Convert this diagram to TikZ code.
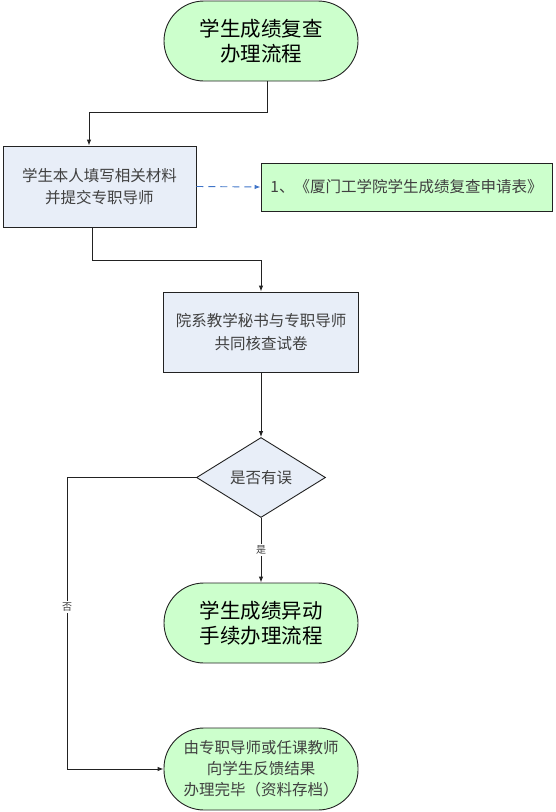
\documentclass[tikz,border=0pt]{standalone}
\usepackage{fontspec}
\newfontfamily\cjk{Noto Sans CJK SC}
\usetikzlibrary{shapes.geometric,arrows.meta}
\definecolor{termgreen}{HTML}{CCFFCC}
\definecolor{boxblue}{HTML}{E8EEF8}
\definecolor{dashblue}{HTML}{3F74C8}
\definecolor{linegray}{HTML}{222222}
\tikzset{
  base/.style={draw=linegray, line width=0.9pt, align=center, inner sep=0pt},
  term/.style={base, fill=termgreen, rounded corners=40pt, minimum width=194pt, minimum height=80pt,
    font=\cjk\fontsize{20.5}{25.5}\selectfont, text=black},
  endterm/.style={base, fill=termgreen, rounded corners=40pt, minimum width=194pt, minimum height=82pt,
    font=\cjk\fontsize{15.5}{21}\selectfont, text=black!75},
  procbox/.style={base, fill=boxblue, font=\cjk\fontsize{15.5}{22.5}\selectfont, text=black!75},
  notebox/.style={base, fill=termgreen, font=\cjk\fontsize{15.5}{20}\selectfont, text=black!75},
  decide/.style={base, diamond, fill=boxblue, minimum width=129pt, minimum height=80pt,
    font=\cjk\fontsize{15.5}{20}\selectfont, text=black!75},
  arr/.style={draw=linegray, line width=0.9pt, -{Latex[length=6pt,width=4.5pt]}},
  dasharr/.style={draw=dashblue, line width=0.9pt, dash pattern=on 7pt off 5pt, -{Latex[length=6pt,width=4.5pt]}},
  lbl/.style={fill=white, inner sep=1.5pt, font=\cjk\fontsize{10}{10}\selectfont, text=black!75},
}
\begin{document}
\begin{tikzpicture}[x=1pt,y=-1pt]
\useasboundingbox (0,0) rectangle (555,812);
\node[term] (t1) at (261,41) {学生成绩复查\\办理流程};
\node[procbox, minimum width=193pt, minimum height=81pt] (b1) at (99.5,186.5) {学生本人填写相关材料\\并提交专职导师};
\node[notebox, minimum width=291pt, minimum height=48pt] (g) at (406.5,187) {1、《厦门工学院学生成绩复查申请表》};
\node[procbox, minimum width=195pt, minimum height=80pt] (b2) at (261,332) {院系教学秘书与专职导师\\共同核查试卷};
\node[decide] (d) at (261,477.5) {是否有误};
\node[term] (t2) at (261,623) {学生成绩异动\\手续办理流程};
\node[endterm] (f) at (261,769) {由专职导师或任课教师\\向学生反馈结果\\办理完毕（资料存档）};
\coordinate (c1) at (67,477.5);
\coordinate (c2) at (67,769);
\draw[arr] ([xshift=6pt]t1.south) -- ++(0,31) -| ([xshift=-10.5pt]b1.north);
\draw[dasharr] (b1.east) -- (g.west);
\draw[arr] ([xshift=-7.5pt]b1.south) -- ++(0,33) -| (b2.north);
\draw[arr] (b2.south) -- (d.north);
\draw[arr] (d.south) -- node[lbl]{是} (t2.north);
\draw[arr] (d.west) -- (c1) -- node[lbl, pos=0.445]{否} (c2) -- (f.west);
\end{tikzpicture}
\end{document}
